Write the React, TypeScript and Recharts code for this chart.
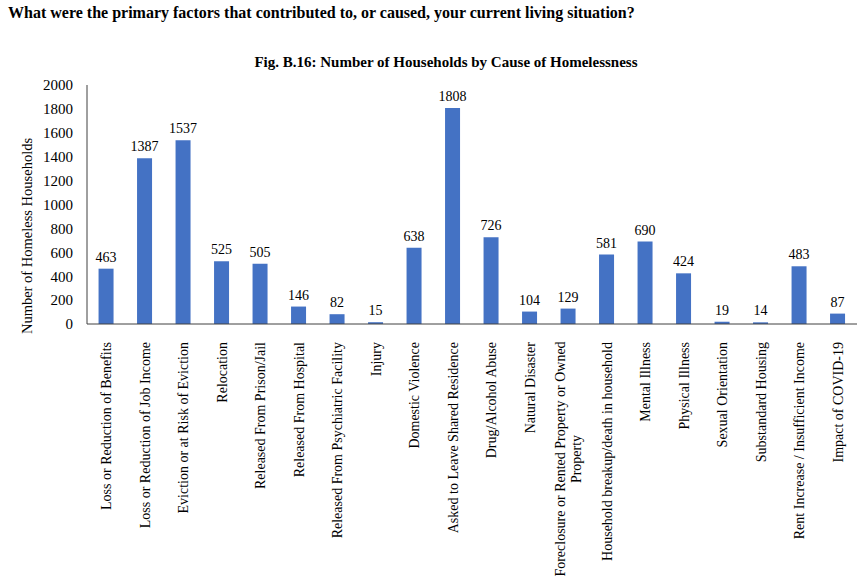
import React from "react";
import { BarChart, Bar, XAxis, YAxis, LabelList } from "recharts";

const causes = [
  "Loss or Reduction of Benefits",
  "Loss or Reduction of Job Income",
  "Eviction or at Risk of Eviction",
  "Relocation",
  "Released From Prison/Jail",
  "Released From Hospital",
  "Released From Psychiatric Facility",
  "Injury",
  "Domestic Violence",
  "Asked to Leave Shared Residence",
  "Drug/Alcohol Abuse",
  "Natural Disaster",
  "Foreclosure or Rented Property or Owned Property",
  "Household breakup/death in household",
  "Mental Illness",
  "Physical Illness",
  "Sexual Orientation",
  "Substandard Housing",
  "Rent Increase / Insufficient Income",
  "Impact of COVID-19",
];

const households = [463, 1387, 1537, 525, 505, 146, 82, 15, 638, 1808, 726, 104, 129, 581, 690, 424, 19, 14, 483, 87];

const yTicks = [0, 200, 400, 600, 800, 1000, 1200, 1400, 1600, 1800, 2000];

const data = causes.map((name, i) => ({ name, value: households[i] }));

const FONT = "Liberation Serif, Times New Roman, serif";

function CauseTick(props: any) {
  const { x, y, payload } = props;
  const label: string = payload.value;
  if (label.startsWith("Foreclosure")) {
    return (
      <g transform={`translate(${x},${y + 127}) rotate(-90)`}>
        <text x={0} y={0} dy={-3} textAnchor="middle" fontSize={14} style={{ fontFamily: FONT }} fill="#000">
          Foreclosure or Rented Property or Owned
        </text>
        <text x={0} y={0} dy={13} textAnchor="middle" fontSize={14} style={{ fontFamily: FONT }} fill="#000">
          Property
        </text>
      </g>
    );
  }
  return (
    <g transform={`translate(${x},${y + 10}) rotate(-90)`}>
      <text x={0} y={0} dy={5} textAnchor="end" fontSize={14} style={{ fontFamily: FONT }} fill="#000">
        {label}
      </text>
    </g>
  );
}

export default function App() {
  return (
    <div style={{ position: "absolute", left: 0, top: 0, width: 865, height: 585, background: "#fff", fontFamily: FONT }}>
      <div style={{ position: "absolute", left: 8, top: 4, fontSize: 16, fontWeight: 700, color: "#000", whiteSpace: "nowrap" }}>
        What were the primary factors that contributed to, or caused, your current living situation?
      </div>
      <div style={{ position: "absolute", left: 0, width: 892, top: 54, textAlign: "center", fontSize: 15, fontWeight: 700, color: "#000" }}>
        Fig. B.16: Number of Households by Cause of Homelessness
      </div>
      <div
        style={{
          position: "absolute",
          left: 27,
          top: 236,
          transform: "translate(-50%, -50%) rotate(-90deg)",
          whiteSpace: "nowrap",
          fontSize: 14.5,
          color: "#000",
        }}
      >
        Number of Homeless Households
      </div>
      <div style={{ position: "absolute", left: 0, top: 0 }}>
        <BarChart
          width={865}
          height={585}
          data={data}
          margin={{ top: 85, right: 8, bottom: 0, left: 37 }}
          barCategoryGap="30%"
          style={{ fontFamily: FONT }}
        >
          <XAxis
            dataKey="name"
            interval={0}
            tickLine={false}
            axisLine={{ stroke: "#404040", strokeWidth: 1 }}
            tick={<CauseTick />}
            height={261}
          />
          <YAxis
            domain={[0, 2000]}
            ticks={yTicks}
            width={50}
            tickLine={false}
            axisLine={{ stroke: "#404040", strokeWidth: 1 }}
            tick={{ fontSize: 15, fill: "#000", style: { fontFamily: FONT } }}
            tickMargin={8}
          />
          <Bar dataKey="value" fill="#4472C4" isAnimationActive={false}>
            <LabelList dataKey="value" position="top" offset={7} style={{ fontSize: 14, fontFamily: FONT, fill: "#000" }} />
          </Bar>
        </BarChart>
      </div>
    </div>
  );
}
